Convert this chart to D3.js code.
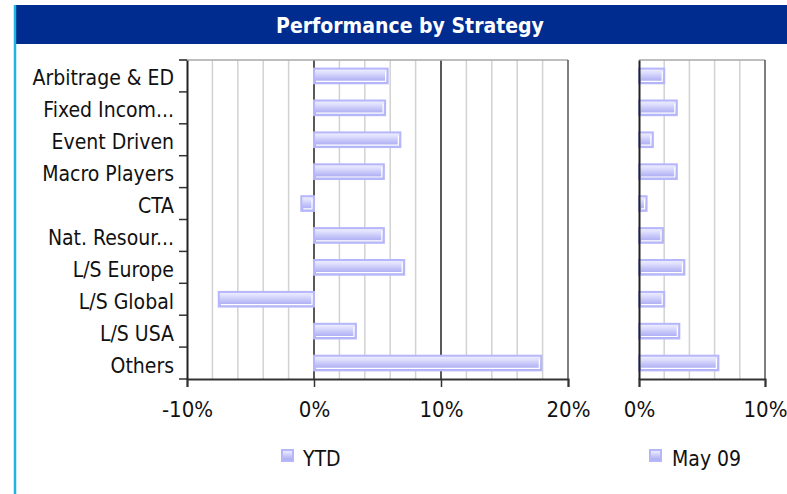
<!DOCTYPE html>
<html>
<head>
<meta charset="utf-8">
<script src="https://cdn.jsdelivr.net/npm/d3@7"></script>
<style>
  html, body { margin: 0; padding: 0; background: #ffffff; }
  svg { display: block; }
</style>
</head>
<body>
<script>
// ---- data ----
const categories = ["Arbitrage & ED", "Fixed Incom...", "Event Driven", "Macro Players", "CTA",
                    "Nat. Resour...", "L/S Europe", "L/S Global", "L/S USA", "Others"];
const ytdValues = [5.8, 5.6, 6.8, 5.5, -1.0, 5.5, 7.1, -7.5, 3.3, 17.9];
const mayValues = [2.0, 3.0, 1.1, 3.0, 0.6, 1.9, 3.6, 2.0, 3.2, 6.3];
const ytdTicks = [-10, 0, 10, 20];
const mayTicks = [0, 10];
const seriesNames = ["YTD", "May 09"];
const titleText = "Performance by Strategy";

// ---- layout ----
const W = 787, H = 494;
const FONT = "'DejaVu Sans Condensed', 'DejaVu Sans', sans-serif";
const plotTop = 60, plotBottom = 379;

const svg = d3.select("body").append("svg").attr("width", W).attr("height", H);

// gradient for bars
const defs = svg.append("defs");
const grad = defs.append("linearGradient").attr("id", "barGrad")
  .attr("x1", 0).attr("y1", 0).attr("x2", 0).attr("y2", 1);
[[0, "#f0f0ff"], [0.25, "#e0e0fe"], [0.5, "#cacafa"], [0.75, "#b6b6f5"], [1, "#a9a9f0"]]
  .forEach(([o, c]) => grad.append("stop").attr("offset", o).attr("stop-color", c));

// frame: cyan side line + title bar
svg.append("rect").attr("x", 15).attr("y", 5).attr("width", W - 15).attr("height", 39).attr("fill", "#002b8f");
svg.append("line").attr("x1", 15).attr("x2", 15).attr("y1", 5).attr("y2", H)
  .attr("stroke", "#1cb6e0").attr("stroke-width", 2.5);
svg.append("text").attr("x", 410).attr("y", 33).attr("text-anchor", "middle")
  .attr("font-family", FONT).attr("font-weight", "bold").attr("font-size", 21)
  .attr("fill", "#ffffff").text(titleText);

// scales
const y = d3.scaleBand().domain(categories).range([plotTop, plotBottom]).paddingInner(0.54).paddingOuter(0.27);
const xL = d3.scaleLinear().domain([-10, 20]).range([187, 568]);
const xR = d3.scaleLinear().domain([0, 10]).range([639, 765]);

function drawPanel(x, values, ticks, gridStep, withCatTicks) {
  const g = svg.append("g");
  const [d0, d1] = x.domain();
  const gridVals = d3.range(d0 + gridStep, d1, gridStep).map(v => Math.round(v * 100) / 100);
  // minor grid
  g.selectAll(".grid").data(gridVals.filter(v => !ticks.includes(v))).join("line")
    .attr("x1", d => x(d)).attr("x2", d => x(d)).attr("y1", plotTop).attr("y2", plotBottom)
    .attr("stroke", "#d2d2d2").attr("stroke-width", 1.5);
  // major inner lines
  g.selectAll(".major").data(ticks.filter(v => v > d0 && v < d1)).join("line")
    .attr("x1", d => x(d)).attr("x2", d => x(d)).attr("y1", plotTop).attr("y2", plotBottom)
    .attr("stroke", "#222").attr("stroke-width", 1.5);
  // top frame
  g.append("line").attr("x1", withCatTicks ? x.range()[0] - 8 : x.range()[0]).attr("x2", x.range()[1])
    .attr("y1", plotTop).attr("y2", plotTop).attr("stroke", "#a8a8a8").attr("stroke-width", 1.5);
  // right frame
  g.append("line").attr("x1", x.range()[1]).attr("x2", x.range()[1]).attr("y1", plotTop).attr("y2", plotBottom)
    .attr("stroke", "#555").attr("stroke-width", 1.5);

  // bars
  const bars = g.selectAll(".bar").data(values.map((v, i) => ({ v, c: categories[i] }))).join("g");
  bars.append("rect")
    .attr("x", d => x(Math.min(0, d.v))).attr("y", d => y(d.c))
    .attr("width", d => Math.abs(x(d.v) - x(0))).attr("height", y.bandwidth())
    .attr("fill", "url(#barGrad)").attr("stroke", "#b6b6fb").attr("stroke-width", 2);
  bars.append("polyline")
    .attr("points", d => {
      const x0 = x(Math.min(0, d.v)) + 2, x1 = x(Math.max(0, d.v)) - 2;
      const y0 = y(d.c) + 3, y1 = y(d.c) + y.bandwidth() - 2;
      return `${x0},${y1} ${x1},${y1} ${x1},${y0}`;
    })
    .attr("fill", "none").attr("stroke", "#ffffff").attr("stroke-width", 1.2);

  // axes
  const xAxis = d3.axisBottom(x).tickValues(ticks).tickFormat(d => d + "%").tickSize(8).tickPadding(14);
  const ax = g.append("g").attr("transform", `translate(0,${plotBottom})`).call(xAxis);
  ax.select(".domain").attr("stroke", "#333").attr("stroke-width", 2);
  ax.selectAll(".tick line").attr("stroke", "#333").attr("stroke-width", 1.5);
  ax.selectAll("text").attr("font-family", FONT).attr("font-size", 22).attr("fill", "#111");

  const yAxis = d3.axisLeft(y).tickSize(0).tickPadding(13);
  const ay = g.append("g").attr("transform", `translate(${x.range()[0]},0)`).call(yAxis);
  ay.select(".domain").attr("stroke", "#222").attr("stroke-width", 2);
  if (withCatTicks) {
    ay.selectAll("text").attr("font-family", FONT).attr("font-size", 21).attr("fill", "#111")
      .attr("dy", "0.45em");
    const bounds = d3.range(categories.length + 1).map(i => plotTop + i * y.step());
    g.selectAll(".ctick").data(bounds).join("line")
      .attr("x1", x.range()[0] - 8).attr("x2", x.range()[0]).attr("y1", d => d).attr("y2", d => d)
      .attr("stroke", "#333").attr("stroke-width", 1.5);
  } else {
    ay.selectAll("text").remove();
  }
  ax.selectAll(".tick text").attr("dy", "0.71em");
}

drawPanel(xL, ytdValues, ytdTicks, 2, true);
drawPanel(xR, mayValues, mayTicks, 2, false);

// legends
const legendPos = [[281, 303], [649, 672]];
seriesNames.forEach((name, i) => {
  const [sx, tx] = legendPos[i];
  svg.append("rect").attr("x", sx + 1).attr("y", 450).attr("width", 11).attr("height", 11)
    .attr("fill", "url(#barGrad)").attr("stroke", "#b6b6fb").attr("stroke-width", 2);
  svg.append("text").attr("x", tx).attr("y", 466).attr("font-family", FONT).attr("font-size", 21)
    .attr("fill", "#111").text(name);
});
</script>
</body>
</html>
